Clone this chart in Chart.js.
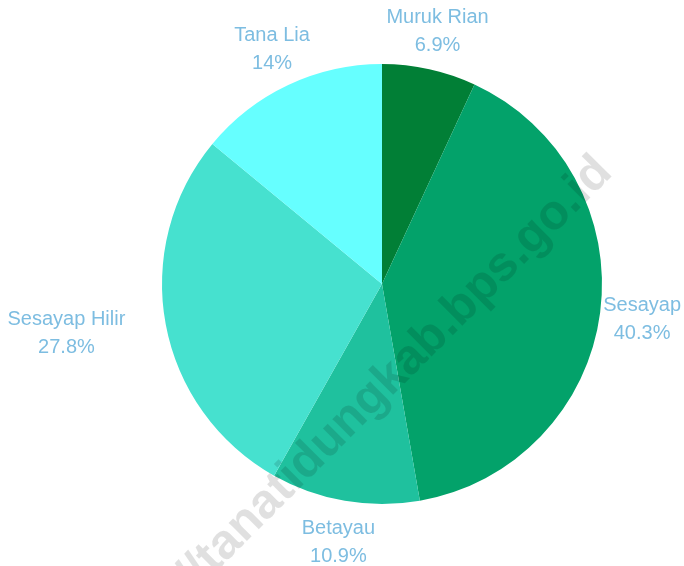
<!DOCTYPE html>
<html>
<head>
<meta charset="utf-8">
<script src="https://cdn.jsdelivr.net/npm/chart.js@4/dist/chart.umd.min.js"></script>
<style>
  html, body { margin: 0; padding: 0; background: #ffffff; }
  #wrap { width: 684px; height: 566px; }
</style>
</head>
<body>
<div id="wrap"><canvas id="c" width="684" height="566"></canvas></div>
<script>
const categories = ['Muruk Rian', 'Sesayap', 'Betayau', 'Sesayap Hilir', 'Tana Lia'];
const percentages = [6.9, 40.3, 10.9, 27.8, 14];
const sliceColors = ['#017f36', '#03a26a', '#1fc19e', '#46e1cf', '#66ffff'];
const watermarkText = 'https://tanatidungkab.bps.go.id';

const labelPlugin = {
  id: 'outerLabels',
  afterDatasetsDraw(chart) {
    const ctx = chart.ctx;
    const meta = chart.getDatasetMeta(0);
    ctx.save();
    ctx.font = '20px "Liberation Sans", Arial, sans-serif';
    ctx.fillStyle = '#7dbde1';
    ctx.textBaseline = 'alphabetic';
    meta.data.forEach((arc, i) => {
      const mid = (arc.startAngle + arc.endAngle) / 2;
      const d = arc.outerRadius + 38;
      const c = Math.cos(mid), s = Math.sin(mid);
      const px = arc.x + c * d;
      const py = arc.y + s * d;
      const lines = [categories[i], percentages[i] + '%'];
      const w = Math.max(...lines.map(l => ctx.measureText(l).width));
      let left;
      if (c > 0.9) left = px;
      else if (c < -0.9) left = px - 3 - w;
      else left = px - w / 2;
      left = Math.max(3, Math.min(chart.width - 3 - w, left));
      const cx = left + w / 2;
      const b1 = py - 7 + 2.5 * s;
      ctx.textAlign = 'center';
      ctx.fillText(lines[0], cx, b1);
      ctx.fillText(lines[1], cx, b1 + 28);
    });
    ctx.restore();
  },
  afterDraw(chart) {
    const ctx = chart.ctx;
    ctx.save();
    ctx.translate(614, 174);
    ctx.rotate(-Math.PI / 4);
    ctx.font = 'bold 49px "Liberation Sans", Arial, sans-serif';
    ctx.fillStyle = 'rgba(0,0,0,0.12)';
    ctx.textAlign = 'right';
    ctx.textBaseline = 'alphabetic';
    ctx.fillText(watermarkText, 0, 0);
    ctx.restore();
  }
};

new Chart(document.getElementById('c'), {
  type: 'pie',
  data: {
    labels: categories,
    datasets: [{
      data: percentages,
      backgroundColor: sliceColors,
      borderWidth: 0,
      hoverOffset: 0
    }]
  },
  options: {
    responsive: false,
    animation: false,
    layout: { padding: { top: 64, bottom: 62, left: 80, right: 0 } },
    plugins: {
      legend: { display: false },
      tooltip: { enabled: false }
    }
  },
  plugins: [labelPlugin]
});
</script>
</body>
</html>
